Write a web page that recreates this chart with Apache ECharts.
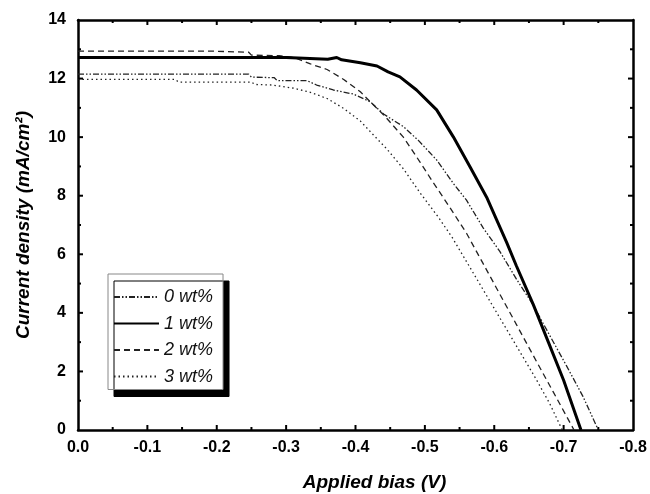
<!DOCTYPE html>
<html>
<head>
<meta charset="utf-8">
<script src="https://cdn.jsdelivr.net/npm/echarts@6/dist/echarts.min.js"></script>
<style>
  html, body { margin: 0; padding: 0; background: #fff; }
  #chart { width: 650px; height: 494px; }
</style>
</head>
<body>
<div id="chart"></div>
<script>
// J-V curves, bias in V (negative), current density in mA/cm2
const seriesNames = ['0 wt%', '1 wt%', '2 wt%', '3 wt%']

const bias0 = [0, -0.246, -0.25, -0.283, -0.287, -0.33, -0.344, -0.368, -0.397, -0.421, -0.441, -0.469, -0.491, -0.517, -0.541, -0.56, -0.584, -0.608, -0.632, -0.654, -0.676, -0.704, -0.728, -0.75]
const curr0 = [12.15, 12.15, 12.05, 12.03, 11.93, 11.93, 11.78, 11.61, 11.47, 11.21, 10.78, 10.36, 9.88, 9.22, 8.42, 7.85, 6.9, 6.1, 5.15, 4.35, 3.4, 2.2, 1.14, 0]

const bias1 = [0, -0.3, -0.36, -0.373, -0.38, -0.407, -0.431, -0.447, -0.464, -0.488, -0.517, -0.541, -0.565, -0.589, -0.603, -0.618, -0.632, -0.656, -0.678, -0.7, -0.725]
const curr1 = [12.72, 12.72, 12.66, 12.72, 12.64, 12.54, 12.43, 12.23, 12.06, 11.61, 10.93, 10.01, 8.99, 7.95, 7.2, 6.4, 5.6, 4.3, 3.0, 1.7, 0]

const bias2 = [0, -0.188, -0.19, -0.246, -0.25, -0.29, -0.311, -0.335, -0.359, -0.383, -0.407, -0.421, -0.441, -0.469, -0.493, -0.512, -0.536, -0.56, -0.584, -0.608, -0.632, -0.651, -0.685, -0.715]
const curr2 = [12.94, 12.94, 12.9, 12.9, 12.8, 12.78, 12.72, 12.5, 12.31, 11.97, 11.55, 11.21, 10.75, 10.0, 9.15, 8.45, 7.6, 6.72, 5.68, 4.64, 3.6, 2.77, 1.3, 0]

const bias3 = [0, -0.14, -0.145, -0.25, -0.255, -0.28, -0.311, -0.335, -0.359, -0.383, -0.407, -0.426, -0.445, -0.469, -0.493, -0.52, -0.54, -0.56, -0.58, -0.6, -0.62, -0.64, -0.66, -0.68, -0.698]
const curr3 = [11.97, 11.97, 11.88, 11.88, 11.8, 11.78, 11.67, 11.53, 11.32, 10.98, 10.55, 10.07, 9.6, 8.92, 8.1, 7.25, 6.55, 5.75, 4.95, 4.15, 3.35, 2.55, 1.75, 0.9, 0]

const xTicks = ['0.0', '-0.1', '-0.2', '-0.3', '-0.4', '-0.5', '-0.6', '-0.7', '-0.8']
// tick positions of the frame (major + minor)
const xMajor = [-0.1, -0.2, -0.3, -0.4, -0.5, -0.6, -0.7]
const xMinor = [-0.05, -0.15, -0.25, -0.35, -0.45, -0.55, -0.65, -0.75]
const yMajor = [2, 4, 6, 8, 10, 12]
const yMinor = [1, 3, 5, 7, 9, 11, 13]

const font = 'Arial, "Liberation Sans", sans-serif'

function pairs(xs, ys) {
  return xs.map((x, i) => [x, ys[i]])
}

const chart = echarts.init(document.getElementById('chart'))

function xAx(pos, withLabel) {
  return {
    type: 'value',
    position: pos,
    min: -0.8,
    max: 0,
    interval: 0.1,
    inverse: true,
    axisLine: { show: true, onZero: false, lineStyle: { color: '#000', width: 2.5 } },
    axisTick: { show: false },
    minorTick: { show: false },
    splitLine: { show: false },
    axisLabel: {
      show: withLabel,
      margin: 10,
      color: '#000',
      fontFamily: font,
      fontWeight: 'bold',
      fontSize: 16,
      formatter: function(v) {
        return xTicks[Math.round(-v * 10)]
      }
    }
  }
}

function yAx(pos, withLabel) {
  return {
    type: 'value',
    position: pos,
    min: 0,
    max: 14,
    interval: 2,
    axisLine: { show: true, onZero: false, lineStyle: { color: '#000', width: 2.5 } },
    axisTick: { show: false },
    minorTick: { show: false },
    splitLine: { show: false },
    axisLabel: {
      show: withLabel,
      margin: 12,
      color: '#000',
      fontFamily: font,
      fontWeight: 'bold',
      fontSize: 16
    }
  }
}

const xBottom = xAx('bottom', true)
xBottom.name = 'Applied bias (V)'
xBottom.nameLocation = 'middle'
xBottom.nameGap = 43
xBottom.nameTextStyle = { color: '#000', fontFamily: font, fontWeight: 'bold', fontStyle: 'italic', fontSize: 19, padding: [0, 0, 0, 38] }

const yLeft = yAx('left', true)
yLeft.name = 'Current density (mA/cm²)'
yLeft.nameLocation = 'middle'
yLeft.nameGap = 45
yLeft.nameTextStyle = { color: '#000', fontFamily: font, fontWeight: 'bold', fontStyle: 'italic', fontSize: 19 }

const lineStyles = [
  { color: '#222', width: 1.3, type: [6, 2, 1.5, 2, 1.5, 2] },
  { color: '#000', width: 3, type: 'solid' },
  { color: '#222', width: 1.3, type: [6, 4] },
  { color: '#222', width: 1.3, type: [1.5, 3] }
]
const dataSets = [pairs(bias0, curr0), pairs(bias1, curr1), pairs(bias2, curr2), pairs(bias3, curr3)]

// inward frame ticks: [x, y, dirX, dirY, length]
const MAJ = 5
const MIN = 3
const tickData = []
xMajor.forEach(v => { tickData.push([v, 0, 0, -1, MAJ], [v, 14, 0, 1, MAJ]) })
xMinor.forEach(v => { tickData.push([v, 0, 0, -1, MIN], [v, 14, 0, 1, MIN]) })
yMajor.forEach(v => { tickData.push([0, v, 1, 0, MAJ], [-0.8, v, -1, 0, MAJ]) })
yMinor.forEach(v => { tickData.push([0, v, 1, 0, MIN], [-0.8, v, -1, 0, MIN]) })

const series = seriesNames.map((name, i) => ({
  name: name,
  type: 'line',
  symbol: 'none',
  showSymbol: false,
  lineStyle: lineStyles[i],
  itemStyle: { color: lineStyles[i].color },
  data: dataSets[i],
  z: i === 1 ? 3 : 2
}))

series.push({
  type: 'custom',
  silent: true,
  z: 5,
  data: tickData,
  renderItem: function(params, api) {
    const p = api.coord([api.value(0), api.value(1)])
    const len = api.value(4)
    return {
      type: 'line',
      shape: { x1: p[0], y1: p[1], x2: p[0] + api.value(2) * len, y2: p[1] + api.value(3) * len },
      style: { stroke: '#000', lineWidth: 2 }
    }
  }
})

chart.setOption({
  animation: false,
  backgroundColor: '#fff',
  grid: { left: 78, right: 17, top: 20, bottom: 64, containLabel: false, outerBoundsMode: 'none' },
  legend: {
    orient: 'vertical',
    left: 108,
    top: 274,
    data: seriesNames,
    itemWidth: 45,
    itemHeight: 14,
    itemGap: 8.5,
    padding: [14, 10, 4, 5],
    backgroundColor: '#fff',
    borderColor: '#888',
    borderWidth: 1,
    shadowColor: '#000',
    shadowBlur: 0,
    shadowOffsetX: 6,
    shadowOffsetY: 7,
    itemStyle: { color: 'rgba(0,0,0,0)', borderWidth: 0 },
    textStyle: { color: '#111', fontFamily: font, fontStyle: 'italic', fontSize: 18 }
  },
  xAxis: [xBottom, xAx('top', false)],
  yAxis: [yLeft, yAx('right', false)],
  series: series
})
</script>
</body>
</html>
